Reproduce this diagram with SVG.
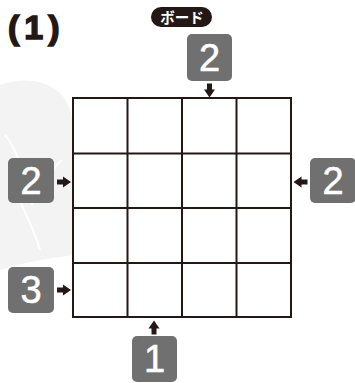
<svg xmlns="http://www.w3.org/2000/svg" width="355" height="383" viewBox="0 0 355 383">
<defs>
<style>
.clue rect{fill:#707070}
.clue text{fill:#fff;font-family:"Liberation Sans",Arial,sans-serif;font-size:38px;text-anchor:middle;stroke:#fff;stroke-width:0.6}
.grid line{stroke:#231815;stroke-width:2}
.arr{fill:#231815}
</style>
<path id="arrow" d="M-2.5,-7 h5 v6 h3 l-5.5,8 l-5.5,-8 h3z"/>
</defs>
<rect width="355" height="383" fill="#fff"/>
<g id="background">
<path d="M0,85 C20,78 45,78 62,95 C70,105 74,120 74,140 L74,255 C50,258 25,262 0,270 Z" fill="#f3f3f3"/>
<path d="M5,135 C18,150 28,185 32,205 M32,205 C40,190 50,170 62,160 M20,200 C25,215 35,230 40,250" stroke="#fff" stroke-width="2" fill="none"/>
</g>
<text id="title" x="8" y="39" font-family="Liberation Sans,Arial,sans-serif" font-weight="bold" font-size="34" letter-spacing="5" fill="#231815" stroke="#231815" stroke-width="1.5">(1)</text>
<g id="label">
<rect x="151" y="7" width="61" height="20" rx="10" fill="#231815"/>
<text x="182" y="22.5" font-family="Noto Sans CJK JP,sans-serif" font-weight="bold" font-size="14.5" fill="#fff" text-anchor="middle">ボード</text>
</g>
<g id="grid" class="grid">
<rect x="73" y="98" width="218" height="219" fill="#fff"/>
<line x1="72" y1="98" x2="292" y2="98"/>
<line x1="72" y1="153.5" x2="292" y2="153.5"/>
<line x1="72" y1="208" x2="292" y2="208"/>
<line x1="72" y1="263" x2="292" y2="263"/>
<line x1="72" y1="317" x2="292" y2="317"/>
<line x1="73" y1="97" x2="73" y2="318"/>
<line x1="127.5" y1="97" x2="127.5" y2="318"/>
<line x1="182" y1="97" x2="182" y2="318"/>
<line x1="236.5" y1="97" x2="236.5" y2="318"/>
<line x1="291" y1="97" x2="291" y2="318"/>
</g>
<g id="connectors" class="arr">
<use href="#arrow" transform="translate(209.5,90.5)"/>
<use href="#arrow" transform="translate(64,182) rotate(-90)"/>
<use href="#arrow" transform="translate(300.5,182) rotate(90)"/>
<use href="#arrow" transform="translate(64,290) rotate(-90)"/>
<use href="#arrow" transform="translate(154,327.5) rotate(180)"/>
</g>
<g id="clue-top" class="clue"><rect x="187" y="34" width="45" height="47" rx="5"/><text x="209.5" y="71">2</text></g>
<g id="clue-left1" class="clue"><rect x="8" y="158" width="46" height="45" rx="5"/><text x="31" y="194">2</text></g>
<g id="clue-right" class="clue"><rect x="310" y="158" width="46" height="45" rx="5"/><text x="333" y="194">2</text></g>
<g id="clue-left3" class="clue"><rect x="8" y="267" width="46" height="46" rx="5"/><text x="31" y="303">3</text></g>
<g id="clue-bottom" class="clue"><rect x="132" y="336" width="45" height="46" rx="5"/><text x="154.5" y="372">1</text></g>
</svg>
